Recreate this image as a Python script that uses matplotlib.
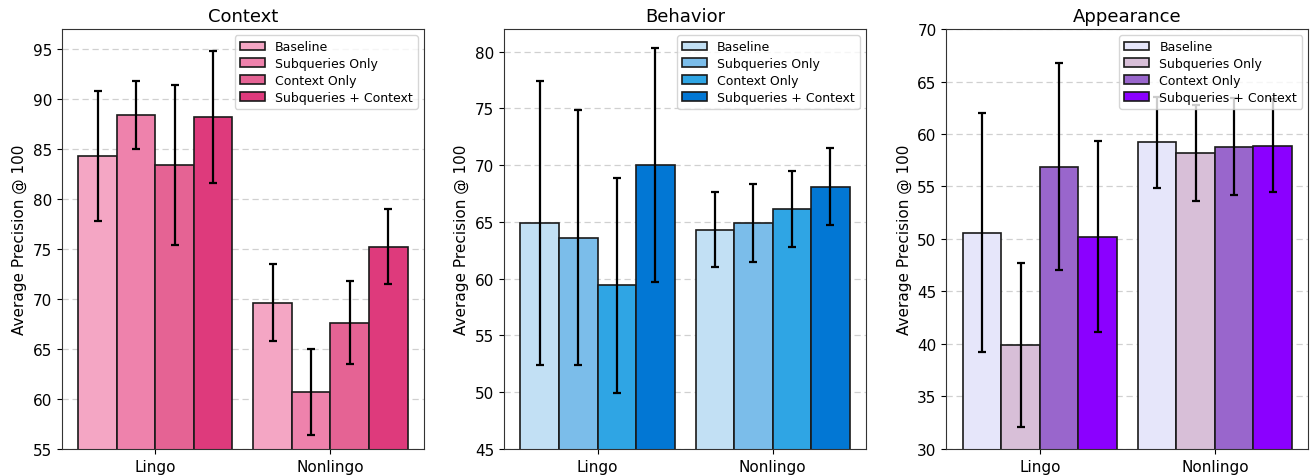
import numpy as np
import matplotlib.pyplot as plt

# ------------------------
# Datos
# ------------------------

grupos = ['Lingo', 'Nonlingo']
metodos = ['Baseline', 'Subqueries Only', 'Context Only', 'Subqueries + Context']

# valores por metodo: [Lingo, Nonlingo]
context_media = [[84.3, 69.6], [88.4, 60.7], [83.4, 67.6], [88.2, 75.2]]
context_err = [[6.55, 3.85], [3.45, 4.3], [8.05, 4.15], [6.65, 3.75]]

behavior_media = [[64.9, 64.3], [63.6, 64.9], [59.4, 66.1], [70.0, 68.1]]
behavior_err = [[12.55, 3.3], [11.25, 3.45], [9.5, 3.35], [10.3, 3.4]]

appearance_media = [[50.6, 59.2], [39.9, 58.2], [56.9, 58.8], [50.2, 58.9]]
appearance_err = [[11.4, 4.3], [7.85, 4.6], [9.9, 4.6], [9.1, 4.4]]

context_colores = ['#F4A6C4', '#EE82AC', '#E56394', '#DE3A7C']
behavior_colores = ['#C2E0F4', '#7BBDEA', '#2FA5E4', '#0277D4']
appearance_colores = ['#E6E6FA', '#D8BFD8', '#9966CC', '#8B00FF']

paneles = [
    ('Context', context_media, context_err, context_colores, (55, 97)),
    ('Behavior', behavior_media, behavior_err, behavior_colores, (45, 82)),
    ('Appearance', appearance_media, appearance_err, appearance_colores, (30, 70)),
]

# ------------------------
# Grafico
# ------------------------

fig, axes = plt.subplots(1, 3, figsize=(13.15, 4.77), dpi=100)
fig.subplots_adjust(left=0.047, right=0.995, top=0.937, bottom=0.057, wspace=0.221)

x = np.arange(len(grupos))
ancho = 0.22

for ax, (titulo, medias, errs, colores, ylim) in zip(axes, paneles):
    for k, metodo in enumerate(metodos):
        pos = x + (k - 1.5) * ancho
        ax.bar(pos, medias[k], ancho, yerr=errs[k], color=colores[k],
               edgecolor='#1a1a1a', linewidth=1.2, label=metodo,
               error_kw=dict(ecolor='black', elinewidth=1.6, capsize=3, capthick=1.6),
               zorder=2)
    ax.set_ylim(*ylim)
    ax.set_xticks(x)
    ax.set_xticklabels(grupos, fontsize=11)
    ax.tick_params(axis='y', labelsize=11)
    ax.set_title(titulo, fontsize=13)
    ax.set_ylabel('Average Precision @ 100', fontsize=11)
    ax.yaxis.grid(True, linestyle=(0, (5, 3)), color='#d0d0d0', linewidth=0.9, zorder=0)
    ax.set_axisbelow(True)
    for sp in ax.spines.values():
        sp.set_color('#333333')
    ax.legend(loc='upper right', fontsize=9, handlelength=2.0,
              borderpad=0.4, labelspacing=0.3)

plt.savefig('out.png', dpi=100)
